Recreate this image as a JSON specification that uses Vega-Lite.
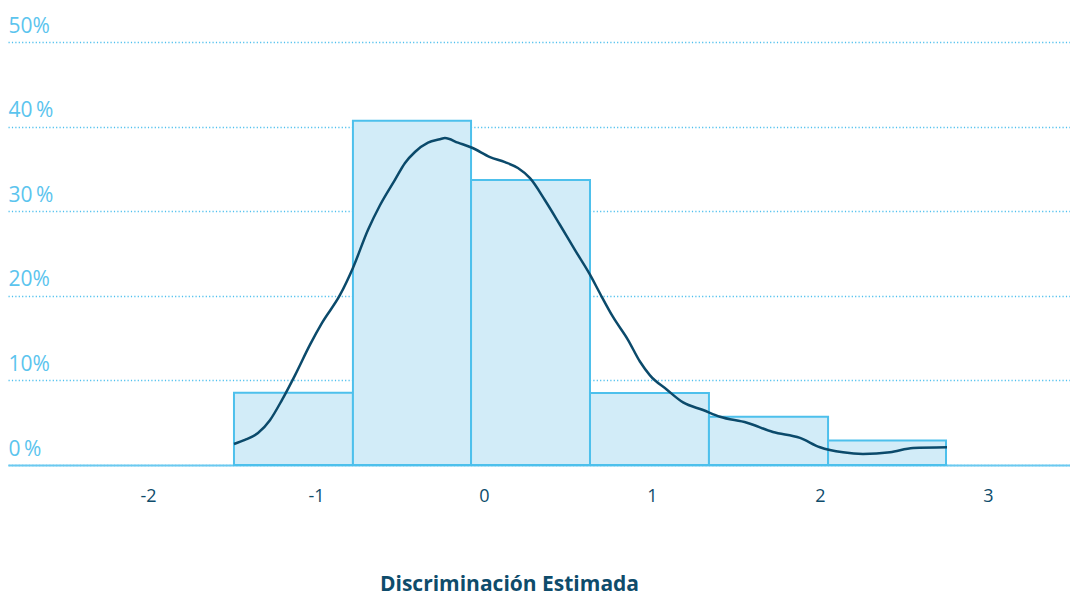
{
  "$schema": "https://vega.github.io/schema/vega-lite/v6.json",
  "autosize": {"type": "none"},
  "width": 1062,
  "height": 423,
  "padding": {"left": 8, "top": 42, "right": 0, "bottom": 132},
  "background": "white",
  "config": {
    "view": {"stroke": null},
    "font": "Open Sans"
  },
  "datasets": {
    "bins": [
      {"x0": -1.488, "x1": -0.780, "share": 0.0855},
      {"x0": -0.780, "x1": -0.077, "share": 0.407},
      {"x0": -0.077, "x1": 0.631, "share": 0.337},
      {"x0": 0.631, "x1": 1.339, "share": 0.085},
      {"x0": 1.339, "x1": 2.048, "share": 0.057},
      {"x0": 2.048, "x1": 2.750, "share": 0.029}
    ],
    "density": [
      {"x": -1.488, "y": 0.0248},
      {"x": -1.423, "y": 0.0296},
      {"x": -1.345, "y": 0.0378},
      {"x": -1.274, "y": 0.053},
      {"x": -1.202, "y": 0.077},
      {"x": -1.125, "y": 0.106},
      {"x": -1.036, "y": 0.142},
      {"x": -0.964, "y": 0.168},
      {"x": -0.857, "y": 0.201},
      {"x": -0.780, "y": 0.233},
      {"x": -0.690, "y": 0.278},
      {"x": -0.619, "y": 0.307},
      {"x": -0.530, "y": 0.337},
      {"x": -0.470, "y": 0.357},
      {"x": -0.411, "y": 0.370},
      {"x": -0.333, "y": 0.381},
      {"x": -0.262, "y": 0.385},
      {"x": -0.232, "y": 0.3865},
      {"x": -0.155, "y": 0.381},
      {"x": -0.071, "y": 0.375},
      {"x": 0.036, "y": 0.364},
      {"x": 0.125, "y": 0.358},
      {"x": 0.202, "y": 0.351},
      {"x": 0.274, "y": 0.339},
      {"x": 0.363, "y": 0.313},
      {"x": 0.452, "y": 0.284},
      {"x": 0.542, "y": 0.254},
      {"x": 0.631, "y": 0.225},
      {"x": 0.690, "y": 0.203},
      {"x": 0.768, "y": 0.175},
      {"x": 0.857, "y": 0.148},
      {"x": 0.929, "y": 0.122},
      {"x": 0.988, "y": 0.106},
      {"x": 1.089, "y": 0.089},
      {"x": 1.185, "y": 0.074},
      {"x": 1.304, "y": 0.065},
      {"x": 1.405, "y": 0.057},
      {"x": 1.565, "y": 0.050},
      {"x": 1.720, "y": 0.039},
      {"x": 1.881, "y": 0.032},
      {"x": 2.0, "y": 0.021},
      {"x": 2.137, "y": 0.015},
      {"x": 2.256, "y": 0.013},
      {"x": 2.417, "y": 0.015},
      {"x": 2.554, "y": 0.020},
      {"x": 2.756, "y": 0.021}
    ]
  },
  "layer": [
    {
      "data": {"name": "bins"},
      "mark": {"type": "rect", "fill": "#D2ECF8", "stroke": "#4DC0EC", "strokeWidth": 2},
      "encoding": {
        "x": {
          "field": "x0", "type": "quantitative",
          "scale": {"domain": [-2.833, 3.488], "nice": false, "zero": false},
          "axis": {
            "title": "Discriminación Estimada",
            "values": [-2, -1, 0, 1, 2, 3],
            "labelExpr": "'' + datum.value",
            "grid": false,
            "ticks": false,
            "domainColor": "#6BC9F0",
            "domainWidth": 2,
            "labelColor": "#0E4C6B",
            "labelFontSize": 18,
            "labelPadding": 22,
            "titleColor": "#0E4C6B",
            "titleFontSize": 21,
            "titleFontWeight": "bold",
            "titlePadding": 68,
            "titleX": 501,
            "titleAlign": "center"
          }
        },
        "x2": {"field": "x1"},
        "y": {
          "field": "share", "type": "quantitative",
          "scale": {"domain": [0, 0.5], "nice": false},
          "axis": {
            "title": null,
            "values": [0, 0.1, 0.2, 0.3, 0.4, 0.5],
            "labelExpr": "(datum.value > 0.25 && datum.value < 0.45) || datum.value == 0 ? format(datum.value * 100, '.0f') + '\u2009%' : format(datum.value * 100, '.0f') + '%'",
            "domain": false,
            "ticks": false,
            "grid": true,
            "gridColor": "#4FC0EE",
            "gridDash": [1.2, 2.2],
            "gridWidth": 1.3,
            "labelAlign": "left",
            "labelBaseline": "alphabetic",
            "labelPadding": 0,
            "labelOffset": -10,
            "labelColor": "#5BC4EE",
            "labelFontSize": 21
          }
        },
        "y2": {"datum": 0}
      }
    },
    {
      "data": {"name": "density"},
      "mark": {"type": "line", "color": "#0B4A6B", "strokeWidth": 2.5, "interpolate": "monotone"},
      "encoding": {
        "x": {"field": "x", "type": "quantitative"},
        "y": {"field": "y", "type": "quantitative"}
      }
    }
  ]
}
